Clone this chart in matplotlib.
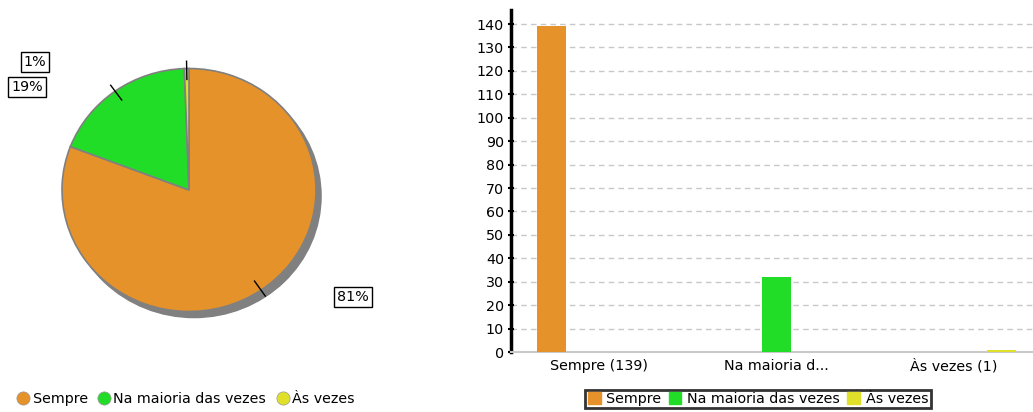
import numpy as np
import matplotlib
matplotlib.use("Agg")
import matplotlib.pyplot as plt
from matplotlib.patches import Ellipse
from matplotlib.lines import Line2D
from matplotlib.patches import Patch

categories = ["Sempre", "Na maioria das vezes", "Às vezes"]
values     = [139, 32, 1]
tick_names = ["Sempre (139)", "Na maioria d...", "Às vezes (1)"]
colors     = ["#e6922b", "#22dd27", "#e0e02a"]

W, H = 1033, 412
plt.rcParams["font.family"] = ["DejaVu Sans"]
plt.rcParams["font.size"] = 10.3

fig = plt.figure(figsize=(W / 100, H / 100), dpi=100)

# ---------------------------------------------------------------------------
# pie
# ---------------------------------------------------------------------------
cx, cy, rx, ry = 189, 190, 127, 121.5
ax_pie = fig.add_axes([(cx - rx) / W, (H - cy - ry) / H, 2 * rx / W, 2 * ry / H])
ax_pie.axis("off")

# drop shadow
ax_pie.add_patch(Ellipse((0.04, -0.05), 2, 2, color="#808080", zorder=0, clip_on=False))
wedges, _ = ax_pie.pie(values, colors=colors, startangle=90, counterclock=False,
                       wedgeprops=dict(edgecolor="#808080", linewidth=1.2))
for w in wedges:
    w.set_clip_on(False)
ax_pie.set_xlim(-1, 1)
ax_pie.set_ylim(-1, 1)
ax_pie.set_aspect("auto")

total = sum(values)
pct = [f"{round(v / total * 100)}%" for v in values]
# label boxes placed in pixel space (layout only)
label_px = [(353, 297), (27, 87), (35, 62)]
for w, p, (lx, ly) in zip(wedges, pct, label_px):
    mid = np.deg2rad((w.theta1 + w.theta2) / 2)
    ax_pie.plot([0.91 * np.cos(mid), 1.06 * np.cos(mid)],
                [0.91 * np.sin(mid), 1.06 * np.sin(mid)],
                color="black", lw=1, clip_on=False, zorder=5)
    fig.text(lx / W, 1 - ly / H, p, ha="center", va="center",
             bbox=dict(boxstyle="square,pad=0.2", fc="white", ec="black", lw=1))

pie_handles = [Line2D([], [], marker="o", ls="", markersize=9.5, markerfacecolor=c,
                      markeredgecolor="#999999", markeredgewidth=0.5) for c in colors]
fig.legend(pie_handles, categories, loc="center left", bbox_to_anchor=(14 / W, 1 - 399 / H),
           ncol=3, frameon=False, handletextpad=0.0, columnspacing=0.5,
           handlelength=1.3, borderpad=0, borderaxespad=0)

# ---------------------------------------------------------------------------
# bars
# ---------------------------------------------------------------------------
top, bottom, left = 10, 352, 511
ax = fig.add_axes([left / W, 1 - bottom / H, 531 / W, (bottom - top) / H])
x = np.arange(len(categories))
bw, off = 0.164, 0.271
for i, (v, c) in enumerate(zip(values, colors)):
    ax.bar(x[i] + (i - 1) * off, v, width=bw, color=c, zorder=3)

ax.set_xlim(-0.5, 2.5)
ax.set_ylim(0, 146)
ax.set_yticks(range(0, 141, 10))
ax.set_xticks(x)
ax.set_xticklabels(tick_names)
ax.tick_params(axis="x", length=0, pad=5)
ax.tick_params(axis="y", direction="inout", length=4, width=1.5, pad=3)
ax.yaxis.grid(True, color="#c8c8c8", ls=(0, (4, 3)), lw=1)
ax.set_axisbelow(True)
for s in ["top", "right"]:
    ax.spines[s].set_visible(False)
ax.spines["left"].set_linewidth(2.5)
ax.spines["bottom"].set_color("#c8c8c8")
ax.spines["bottom"].set_linewidth(1.5)

bar_handles = [Patch(color=c) for c in colors]
leg = fig.legend(bar_handles, categories, loc="center", bbox_to_anchor=(758 / W, 1 - 399 / H),
                 ncol=3, frameon=True, fancybox=False, handlelength=0.9, handleheight=0.9,
                 handletextpad=0.4, columnspacing=0.5, borderpad=0.15, borderaxespad=0)
leg.get_frame().set_edgecolor("black")
leg.get_frame().set_linewidth(2)

fig.savefig("out.png", dpi=100)
